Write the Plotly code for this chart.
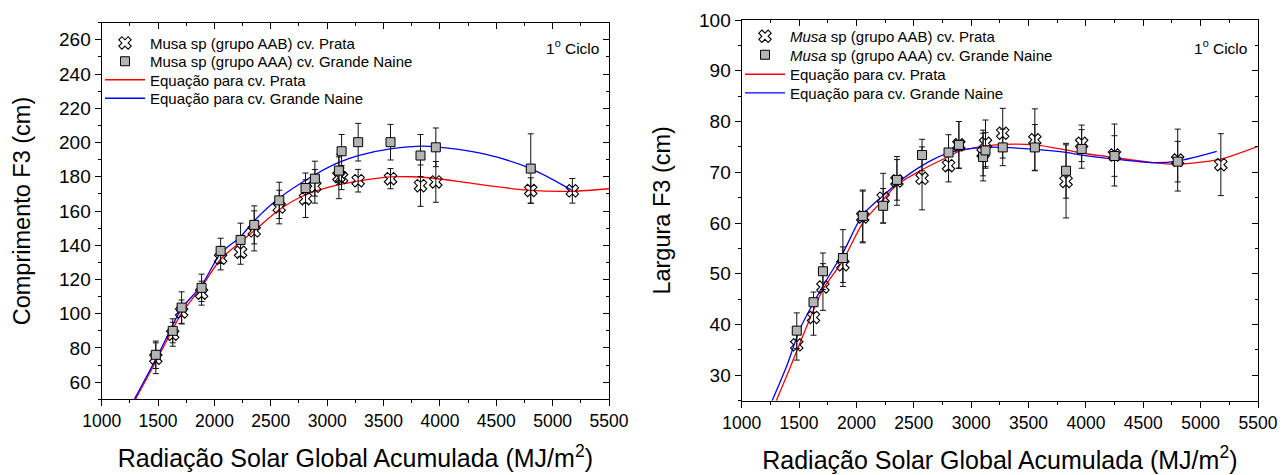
import plotly.graph_objects as go

# ---------------- data: left panel (Comprimento F3) ----------------
x_prata_c = [1480, 1630, 1709, 1886, 2055, 2232, 2353, 2575, 2808, 2891, 3104, 3128, 3275, 3562, 3828, 3964, 4806, 5175]
y_prata_c = [74, 88, 101, 112, 132.4, 135.9, 148.4, 162.3, 167.2, 174.4, 180.2, 179.5, 177.7, 178.9, 174.8, 177, 172, 171.8]
e_prata_c = [9, 7, 7, 7, 6.8, 7, 11.7, 9.8, 11, 9.8, 13, 7, 6.6, 5.9, 12.1, 11.9, 7.4, 7.2]

x_gn_c = [1480, 1630, 1709, 1886, 2055, 2232, 2353, 2575, 2808, 2891, 3104, 3128, 3275, 3562, 3828, 3964, 4806]
y_gn_c = [76, 90, 103.6, 115.1, 136.7, 143.1, 151.9, 166.2, 173.4, 178.9, 183.6, 194.9, 200.2, 200.2, 192.4, 197.2, 184.8]
e_gn_c = [8, 7, 9.2, 8, 7.4, 9.8, 11.1, 10.6, 8.8, 10.2, 8, 9.8, 11, 10.4, 12.3, 11.3, 20.3]

red_x_c = [1300, 1500, 1709, 1886, 2055, 2232, 2353, 2575, 2808, 3104, 3275, 3562, 3750, 3964, 4300, 4806, 5175, 5500]
red_y_c = [50, 74.5, 100.3, 115.7, 131.8, 142, 148.4, 160.7, 169.5, 175.4, 177.5, 179.9, 180, 179, 176, 172, 171.5, 173]

blue_x_c = [1290, 1500, 1709, 1886, 2055, 2232, 2353, 2575, 2891, 3104, 3275, 3562, 3900, 4400, 4806, 5175]
blue_y_c = [50, 76, 103, 116.5, 135.3, 145, 154.3, 167.6, 181.2, 188.4, 192.4, 196.3, 197.8, 193.2, 184.8, 172]

# ---------------- data: right panel (Largura F3) ----------------
x_prata_l = [1480, 1626, 1708, 1882, 2055, 2233, 2353, 2572, 2803, 2893, 3104, 3125, 3275, 3555, 3827, 3963, 4249, 4800, 5176]
y_prata_l = [36, 41.4, 47.4, 51.8, 61.2, 64.9, 68.3, 68.8, 71.3, 75.4, 73.8, 75.7, 77.7, 76.4, 68.2, 75.7, 73.4, 72.4, 71.5]
e_prata_l = [3, 3.5, 4.6, 3.5, 5.1, 4.9, 4.8, 6.2, 3.2, 4.6, 4.5, 4.6, 4.9, 6.1, 7.2, 3.6, 6.1, 6.1, 6.1]

x_gn_l = [1480, 1626, 1708, 1882, 2055, 2233, 2353, 2572, 2803, 2893, 3104, 3125, 3275, 3555, 3827, 3963, 4249, 4800]
y_gn_l = [38.8, 44.4, 50.5, 53.1, 61.4, 63.4, 68.5, 73.4, 73.9, 75.4, 73.0, 74.3, 74.9, 74.9, 70.3, 74.6, 73.2, 72.1]
e_gn_l = [3.5, 2, 3.6, 5.6, 5.1, 3.4, 4, 3.1, 3.5, 4.6, 4.7, 3.5, 3.6, 4.5, 5.4, 3.8, 4, 4]

red_x_l = [1301, 1400, 1555, 1708, 1882, 2055, 2233, 2353, 2572, 2803, 2893, 3104, 3275, 3555, 3827, 3963, 4249, 4585, 4800, 5176, 5500]
red_y_l = [25, 30.3, 39, 46.9, 52.6, 60, 64.6, 67.5, 70.5, 73.1, 74.1, 75.1, 75.5, 75.4, 74.4, 73.8, 72.9, 71.9, 71.6, 72.6, 75.1]

blue_x_l = [1265, 1400, 1511, 1708, 1882, 2055, 2233, 2353, 2572, 2803, 3104, 3275, 3555, 3827, 3963, 4249, 4585, 4800, 5140]
blue_y_l = [25, 32.3, 39.3, 47.6, 54.1, 61.6, 65.4, 67.8, 71.3, 73.8, 74.9, 74.9, 74.5, 73.9, 73.4, 72.6, 71.9, 72.2, 74.1]

x_range = [1000, 5500]
y_range_c = [50, 270]
y_range_l = [25, 100]

names_c = ["Musa sp (grupo AAB) cv. Prata", "Musa sp (grupo AAA) cv. Grande Naine",
           "Equação para cv. Prata", "Equação para cv. Grande Naine"]
names_l = ["<i>Musa</i> sp (grupo AAB) cv. Prata", "<i>Musa</i> sp (grupo AAA) cv. Grande Naine",
           "Equação para cv. Prata", "Equação para cv. Grande Naine"]

W, H = 1285, 475
FONT = "Arial, Liberation Sans, sans-serif"


def px_x(p):
    return p / W


def px_y(p):
    return 1 - p / H


fig = go.Figure()


def add_panel(xa, ya, legs, names, xp, yp, ep, xg, yg, eg, rx, ry, bx, by):
    ax = dict(xaxis=xa, yaxis=ya)
    fig.add_trace(go.Scatter(x=rx, y=ry, mode="lines", line=dict(color="#ff0000", width=1.3, shape="spline", smoothing=0.8),
                             name=names[2], legend=legs[2], **ax))
    fig.add_trace(go.Scatter(x=bx, y=by, mode="lines", line=dict(color="#0000ff", width=1.3, shape="spline", smoothing=0.8),
                             name=names[3], legend=legs[3], **ax))
    fig.add_trace(go.Scatter(x=xp, y=yp, mode="markers", name=names[0], legend=legs[0],
                             marker=dict(symbol="x-open", size=11, color="black", line=dict(width=1.1, color="black")),
                             error_y=dict(type="data", array=ep, color="#111111", thickness=1, width=3), **ax))
    fig.add_trace(go.Scatter(x=xg, y=yg, mode="markers", name=names[1], legend=legs[1],
                             marker=dict(symbol="square", size=9, color="#b4b4b4", line=dict(width=1, color="black")),
                             error_y=dict(type="data", array=eg, color="#111111", thickness=1, width=3), **ax))


add_panel("x", "y", ["legend", "legend3", "legend4", "legend5"], names_c,
          x_prata_c, y_prata_c, e_prata_c, x_gn_c, y_gn_c, e_gn_c, red_x_c, red_y_c, blue_x_c, blue_y_c)
add_panel("x2", "y2", ["legend2", "legend6", "legend7", "legend8"], names_l,
          x_prata_l, y_prata_l, e_prata_l, x_gn_l, y_gn_l, e_gn_l, red_x_l, red_y_l, blue_x_l, blue_y_l)

# empty traces to activate mirrored inner-tick axes
fig.add_trace(go.Scatter(x=[], y=[], xaxis="x3", yaxis="y3", showlegend=False, hoverinfo="skip"))
fig.add_trace(go.Scatter(x=[], y=[], xaxis="x4", yaxis="y4", showlegend=False, hoverinfo="skip"))

dom_x1 = [px_x(101.7), px_x(609)]
dom_y1 = [px_y(399.3), px_y(22.7)]
dom_x2 = [px_x(741.7), px_x(1258)]
dom_y2 = [px_y(400.7), px_y(20)]

xtickfont = dict(family=FONT, size=17.5, color="black")
ytickfont = dict(family=FONT, size=19, color="black")


def xaxis_main(dom, anchor):
    return dict(domain=dom, anchor=anchor, range=x_range, tick0=1000, dtick=500, ticks="outside", ticklen=6,
                tickwidth=1.2, tickcolor="black", showline=True, linecolor="black", linewidth=1.3, mirror=True,
                showgrid=False, zeroline=False, tickfont=xtickfont, automargin=False,
                minor=dict(dtick=250, tick0=1000, ticks="outside", ticklen=3, tickcolor="black", tickwidth=1.2),
                title=dict(text="Radiação Solar Global Acumulada (MJ/m<sup>2</sup>)",
                           font=dict(family=FONT, size=25, color="black"), standoff=19))


def yaxis_main(dom, anchor, rng, dtick, mdt, title):
    return dict(domain=dom, anchor=anchor, range=rng, tick0=0, dtick=dtick, ticks="outside", ticklen=6,
                tickwidth=1.2, tickcolor="black", showline=True, linecolor="black", linewidth=1.3, mirror=True,
                showgrid=False, zeroline=False, tickfont=ytickfont, automargin=False,
                minor=dict(dtick=mdt, tick0=0, ticks="outside", ticklen=3, tickcolor="black", tickwidth=1.2),
                title=dict(text=title, font=dict(family=FONT, size=23.5, color="black"), standoff=21))


def xaxis_mirror(over, anchor):
    return dict(overlaying=over, anchor=anchor, side="top", range=x_range, tick0=1000, dtick=500, ticks="inside",
                ticklen=6, tickwidth=1.2, tickcolor="black", showticklabels=False, showline=False, showgrid=False,
                zeroline=False, automargin=False,
                minor=dict(dtick=250, tick0=1000, ticks="inside", ticklen=3, tickcolor="black", tickwidth=1.2))


def yaxis_mirror(over, anchor, rng, dtick, mdt):
    return dict(overlaying=over, anchor=anchor, side="right", range=rng, tick0=0, dtick=dtick, ticks="inside",
                ticklen=6, tickwidth=1.2, tickcolor="black", showticklabels=False, showline=False, showgrid=False,
                zeroline=False, automargin=False,
                minor=dict(dtick=mdt, tick0=0, ticks="inside", ticklen=3, tickcolor="black", tickwidth=1.2))


legend_common = dict(font=dict(family=FONT, size=15, color="black"), bgcolor="rgba(0,0,0,0)", borderwidth=0,
                     tracegroupgap=0, itemwidth=40, xanchor="left", yanchor="top")
LEG_OFF = 15  # px between legend top and its row centre


def leg(xpx, row_center):
    return dict(x=px_x(xpx), y=px_y(row_center - LEG_OFF), **legend_common)


LX1 = 100
LX2 = 740

fig.update_layout(
    width=W, height=H,
    margin=dict(l=0, r=0, t=0, b=0, autoexpand=False),
    paper_bgcolor="white", plot_bgcolor="white",
    font=dict(family=FONT, color="black"),
    showlegend=True,
    xaxis=xaxis_main(dom_x1, "y"),
    yaxis=yaxis_main(dom_y1, "x", y_range_c, 20, 10, "Comprimento F3 (cm)"),
    xaxis2=xaxis_main(dom_x2, "y2"),
    yaxis2=yaxis_main(dom_y2, "x2", y_range_l, 10, 5, "Largura F3 (cm)"),
    xaxis3=xaxis_mirror("x", "y"),
    yaxis3=yaxis_mirror("y", "x", y_range_c, 20, 10),
    xaxis4=xaxis_mirror("x2", "y2"),
    yaxis4=yaxis_mirror("y2", "x2", y_range_l, 10, 5),
    legend=leg(LX1, 41.7),
    legend3=leg(LX1, 60),
    legend4=leg(LX1, 78.5),
    legend5=leg(LX1, 97),
    legend2=leg(LX2, 35),
    legend6=leg(LX2, 53.5),
    legend7=leg(LX2, 73),
    legend8=leg(LX2, 91.7),
    annotations=[
        dict(text="1<sup>o</sup> Ciclo", xref="paper", yref="paper", x=px_x(601), y=px_y(47), xanchor="right",
             yanchor="middle", showarrow=False, font=dict(family=FONT, size=15.5, color="black")),
        dict(text="1<sup>o</sup> Ciclo", xref="paper", yref="paper", x=px_x(1249), y=px_y(47), xanchor="right",
             yanchor="middle", showarrow=False, font=dict(family=FONT, size=15.5, color="black")),
    ],
)

fig.write_html("out.html", config={"displayModeBar": False},
               post_script="document.body.style.margin='0px';document.body.style.padding='0px';")
